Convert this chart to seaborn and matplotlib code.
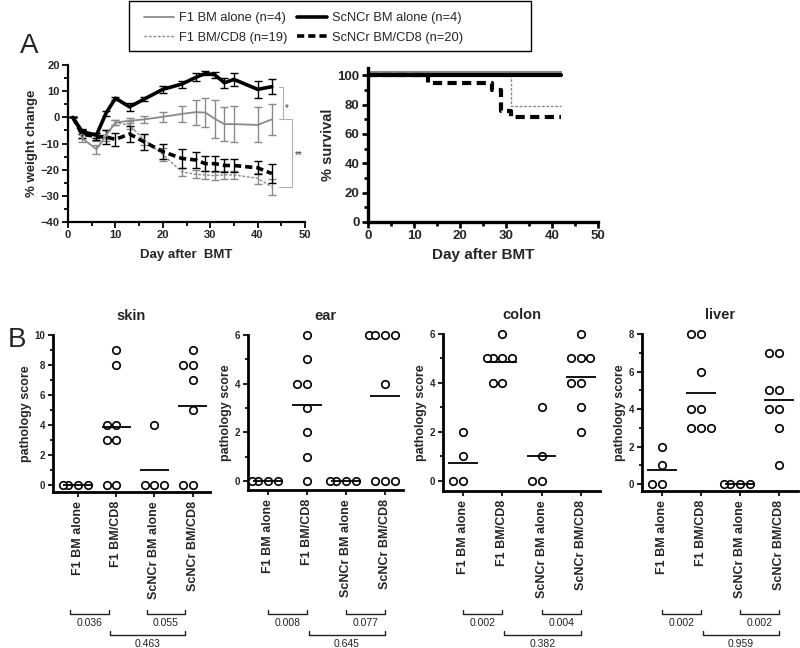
"""GVHD figure: weight change, survival and pathology scores."""

import numpy as np
import pandas as pd
import matplotlib
matplotlib.use("Agg")
import matplotlib.pyplot as plt
import matplotlib.transforms as mtransforms
from matplotlib.lines import Line2D
from matplotlib.patches import Rectangle
from matplotlib.ticker import MultipleLocator
import seaborn as sns

sns.set_theme(style="ticks")
plt.rcParams["font.family"] = ["Liberation Sans", "DejaVu Sans"]

W, H = 800, 648

GROUPS = ["F1 BM alone", "F1 BM/CD8", "ScNCr BM alone", "ScNCr BM/CD8"]
GROUP_N = [4, 19, 4, 20]

# --- panel A, weight change (mean +/- sem) ---
days = [1, 3, 6, 8, 10, 13, 16, 20, 24, 27, 29, 31, 33, 35, 40, 43]
wt_f1_alone = [0, -8, -12.2, -7, -2, -1.3, -0.8, 0.2, 1.3, 2, 1.8, -0.6, -2.6, -2.6, -2.9, -0.8]
wt_f1_alone_err = [0, 1.5, 1.8, 2.2, 1, 1, 1.3, 1.9, 2.9, 4.8, 5.5, 7.3, 6.4, 6.8, 6.7, 6.0]
wt_f1_cd8 = [0, -6.5, -7.5, -6.5, -2, -3, -8.5, -14.2, -20.8, -21.8, -22, -22.3, -22, -22, -23.3, -26.5]
wt_f1_cd8_err = [0, 1.5, 1.5, 1.5, 1, 1.5, 2, 2.5, 1.5, 1.5, 1.5, 1.5, 1.5, 1.5, 2, 3]
wt_sc_alone = [0, -5.5, -6.8, 1.5, 7.3, 4, 6.9, 10.7, 12.7, 15.3, 16.8, 16.2, 13.2, 14.5, 10.7, 11.7]
wt_sc_alone_err = [0, 1, 1, 1, 0.6, 1.5, 0.8, 1.3, 1.3, 1.5, 0.8, 1.2, 1.9, 2.5, 3.2, 2.9]
wt_sc_cd8 = [0, -6.5, -7.3, -7.5, -8.4, -6.4, -9.3, -13.1, -15.7, -16.3, -17.7, -17.7, -18.4, -18.4, -19.3, -21.5]
wt_sc_cd8_err = [0, 1.5, 1.5, 2.5, 2.5, 3, 3, 3, 3.5, 3, 3, 3, 2.5, 2.5, 2.5, 3.5]

# --- panel A, survival ---
surv_t_f1_alone = [0, 42]
surv_f1_alone = [100, 100]
surv_t_sc_alone = [0, 42]
surv_sc_alone = [100, 100]
surv_t_f1_cd8 = [0, 31, 42]
surv_f1_cd8 = [100, 78.9, 78.9]
surv_t_sc_cd8 = [0, 13, 27, 29, 31, 42]
surv_sc_cd8 = [100, 95, 90, 76, 71.5, 71.5]

# --- panel B, pathology scores ---
skin = [[0, 0, 0, 0], [9, 8, 4, 4, 3, 3, 0, 0], [4, 0, 0, 0], [9, 8, 8, 7, 5, 0, 0]]
ear = [[0, 0, 0, 0], [6, 5, 4, 4, 3, 2, 1, 0], [0, 0, 0, 0], [6, 6, 6, 6, 4, 0, 0, 0]]
colon = [[2, 1, 0, 0], [6, 5, 5, 5, 5, 4, 4], [3, 1, 0, 0], [6, 5, 5, 5, 4, 4, 3, 2]]
liver = [[2, 1, 0, 0], [8, 8, 6, 4, 4, 3, 3, 3], [0, 0, 0, 0], [7, 7, 5, 5, 4, 4, 3, 1]]
pvals = {
    "skin": ["0.036", "0.055", "0.463"],
    "ear": ["0.008", "0.077", "0.645"],
    "colon": ["0.002", "0.004", "0.382"],
    "liver": ["0.002", "0.002", "0.959"],
}

GRAY = "#8a8a8a"
STYLES = {
    "F1 BM alone": dict(color=GRAY, lw=1.3, ls="-"),
    "F1 BM/CD8": dict(color=GRAY, lw=1.0, ls=(0, (2, 1.2))),
    "ScNCr BM alone": dict(color="black", lw=2.6, ls="-"),
    "ScNCr BM/CD8": dict(color="black", lw=2.6, ls=(0, (2.0, 1.1))),
}


def rect(l, t, r, b):
    return [l / W, 1 - b / H, (r - l) / W, (b - t) / H]


def fy(px):
    return 1 - px / H


fig = plt.figure(figsize=(8, 6.48), dpi=100)

# ---------------- weight change ----------------
ax = fig.add_axes(rect(68, 65, 305, 222))
wt = {
    "F1 BM alone": (wt_f1_alone, wt_f1_alone_err),
    "F1 BM/CD8": (wt_f1_cd8, wt_f1_cd8_err),
    "ScNCr BM alone": (wt_sc_alone, wt_sc_alone_err),
    "ScNCr BM/CD8": (wt_sc_cd8, wt_sc_cd8_err),
}
for g in ["F1 BM/CD8", "F1 BM alone", "ScNCr BM/CD8", "ScNCr BM alone"]:
    vals, err = wt[g]
    st = STYLES[g]
    sns.lineplot(x=days, y=vals, ax=ax, color=st["color"], lw=st["lw"],
                 linestyle=st["ls"], zorder=3)
    ax.errorbar(days, vals, yerr=err, fmt="none", ecolor=st["color"],
                elinewidth=1.0, capsize=3, capthick=1.0, zorder=2)
ax.set_xlim(0, 50)
ax.set_ylim(-40, 20)
ax.xaxis.set_major_locator(MultipleLocator(10))
ax.xaxis.set_minor_locator(MultipleLocator(5))
ax.yaxis.set_major_locator(MultipleLocator(10))
ax.yaxis.set_minor_locator(MultipleLocator(5))
ax.set_xlabel("Day after  BMT", fontsize=9.5, fontweight="bold", labelpad=6)
ax.set_ylabel("% weight change", fontsize=9.5, fontweight="bold", labelpad=2)

# significance brackets
bc = "#b0b0b0"
ax.plot([44.6, 45.3, 45.3, 44.6], [11.7, 11.7, -0.8, -0.8], color=bc, lw=0.8, clip_on=False)
ax.plot([45.3, 47.2, 47.2, 44.6], [-0.8, -0.8, -26.5, -26.5], color=bc, lw=0.8, clip_on=False)
ax.text(46.2, 3.5, "*", fontsize=7, ha="center", va="center", color="#333333")
ax.text(48.6, -14.5, "**", fontsize=7, ha="center", va="center", color="#333333")

# ---------------- survival ----------------
ax2 = fig.add_axes(rect(368, 68, 598, 222))
lift = mtransforms.offset_copy(ax2.transData, fig=fig, x=0, y=3, units="dots")
surv = [
    ("F1 BM alone", surv_t_f1_alone, surv_f1_alone),
    ("ScNCr BM alone", surv_t_sc_alone, surv_sc_alone),
    ("F1 BM/CD8", surv_t_f1_cd8, surv_f1_cd8),
    ("ScNCr BM/CD8", surv_t_sc_cd8, surv_sc_cd8),
]
for g, t, s in surv:
    st = STYLES[g]
    kw = dict(transform=lift) if g == "F1 BM alone" else {}
    lw = {"F1 BM alone": 1.6, "F1 BM/CD8": 1.0}.get(g, 3.0)
    ls = (0, (2.2, 1.3)) if g == "ScNCr BM/CD8" else st["ls"]
    sns.lineplot(x=t, y=s, ax=ax2, color=st["color"], lw=lw, linestyle=ls,
                 drawstyle="steps-post", zorder=3 if "ScNCr" in g else 2, **kw)
ax2.set_xlim(0, 50)
ax2.set_ylim(0, 105)
ax2.xaxis.set_major_locator(MultipleLocator(10))
ax2.xaxis.set_minor_locator(MultipleLocator(5))
ax2.yaxis.set_major_locator(MultipleLocator(20))
ax2.yaxis.set_minor_locator(MultipleLocator(10))
ax2.set_xlabel("Day after BMT", fontsize=11, fontweight="bold", labelpad=4)
ax2.set_ylabel("% survival", fontsize=10.5, fontweight="bold", labelpad=2)

for a, lw, fs in [(ax, 1.6, 8), (ax2, 2.4, 9.5)]:
    sns.despine(ax=a)
    for sp in ["left", "bottom"]:
        a.spines[sp].set_linewidth(lw)
        a.spines[sp].set_color("black")
    a.tick_params(which="major", length=4, width=lw * 0.8, labelsize=fs, pad=2, color="black")
    a.tick_params(which="minor", length=3, width=lw * 0.8, color="black")
    for lab in a.get_xticklabels() + a.get_yticklabels():
        lab.set_fontweight("bold")

# legend (box drawn separately, it is wider than the entries)
handles = [Line2D([], [], color=STYLES[g]["color"], lw=STYLES[g]["lw"], linestyle=STYLES[g]["ls"])
           for g in GROUPS]
labels = [f"{g} (n={n})" for g, n in zip(GROUPS, GROUP_N)]
fig.legend(handles, labels, ncol=2, loc="upper left", bbox_to_anchor=(134 / W, fy(2)),
           frameon=False, fontsize=9.3, handlelength=2.3, handletextpad=0.35,
           columnspacing=0.8, borderpad=0.3, labelspacing=0.55)
fig.patches.append(Rectangle((129 / W, fy(51)), 402 / W, 50 / H, transform=fig.transFigure,
                             fill=False, edgecolor="black", lw=1.0))

fig.text(20 / W, fy(46), "A", fontsize=20, ha="left", va="center")
fig.text(8 / W, fy(340), "B", fontsize=20, ha="left", va="center")

# ---------------- pathology panels ----------------
panels = [
    ("skin", skin, rect(53, 335, 210, 492), (-0.65, 3.45), (-0.47, 10)),
    ("ear", ear, rect(248, 335, 403, 490), (-0.51, 3.46), (-0.37, 6)),
    ("colon", colon, rect(443, 334, 600, 491), (-0.51, 3.49), (-0.41, 6)),
    ("liver", liver, rect(642, 334, 798, 491), (-0.51, 3.49), (-0.37, 8)),
]
for organ, scores, r, xlim, ylim in panels:
    df = pd.DataFrame({
        "group": np.concatenate([[g] * len(s) for g, s in zip(GROUPS, scores)]),
        "score": np.concatenate(scores),
    })
    axp = fig.add_axes(r)
    sns.swarmplot(data=df, x="group", y="score", order=GROUPS, ax=axp, color="white",
                  edgecolor="black", linewidth=1.2, size=5.4, warn_thresh=1, zorder=3)
    for c in axp.collections:
        c.set_clip_on(False)
    means = df.groupby("group")["score"].mean().reindex(GROUPS)
    xs = np.arange(len(GROUPS))
    axp.hlines(means.values, xs - 0.38, xs + 0.38, color="black", lw=1.3, zorder=4)
    axp.set_xlim(*xlim)
    axp.set_ylim(*ylim)
    axp.yaxis.set_major_locator(MultipleLocator(2))
    axp.yaxis.set_minor_locator(MultipleLocator(1))
    axp.set_title(organ, fontsize=10.5, fontweight="bold", pad=11)
    axp.set_xlabel("")
    axp.set_ylabel("pathology score", fontsize=9, fontweight="bold", labelpad=2)
    sns.despine(ax=axp)
    for sp in ["left", "bottom"]:
        axp.spines[sp].set_linewidth(2.0)
        axp.spines[sp].set_color("black")
    axp.tick_params(axis="y", which="major", length=3.5, width=1.5, labelsize=7, pad=2)
    axp.tick_params(axis="y", which="minor", length=2.5, width=1.5)
    axp.tick_params(axis="x", length=3.5, width=1.5, labelsize=9, pad=3)
    axp.set_xticks(xs)
    axp.set_xticklabels(GROUPS, rotation=90, fontweight="bold")
    for lab in axp.get_yticklabels():
        lab.set_fontweight("bold")

    # p-value brackets below the axis
    tr = mtransforms.blended_transform_factory(axp.transData, fig.transFigure)
    shift = 0.2 if organ == "skin" else 0.0
    p1, p2, p3 = pvals[organ]
    for x0, x1, ypx, txt in [(0, 1, 614, p1), (2, 3, 614, p2), (1.05, 3, 635, p3)]:
        axp.plot([x0 - shift, x0 - shift, x1 - shift, x1 - shift],
                 [fy(ypx - 4), fy(ypx), fy(ypx), fy(ypx - 4)],
                 transform=tr, color="#222222", lw=1.0, clip_on=False)
        axp.text((x0 + x1) / 2 - shift, fy(ypx + 9), txt, transform=tr, ha="center",
                 va="center", fontsize=7.5, color="#222222")

fig.savefig("out.png", dpi=100)
